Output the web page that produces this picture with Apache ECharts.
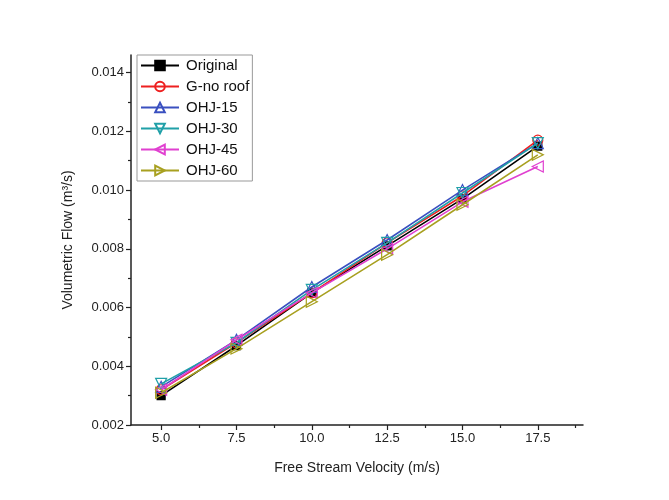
<!DOCTYPE html>
<html>
<head>
<meta charset="utf-8">
<script src="https://cdn.jsdelivr.net/npm/echarts@6/dist/echarts.min.js"></script>
<style>html,body{margin:0;padding:0;background:#fff}#c{width:669px;height:500px}</style>
</head>
<body>
<div id="c"></div>
<script>
const velocities = [5.0, 7.5, 10.0, 12.5, 15.0, 17.5];
const seriesNames = ['Original', 'G-no roof', 'OHJ-15', 'OHJ-30', 'OHJ-45', 'OHJ-60'];
const original = [0.0030, 0.0047, 0.0065, 0.0081, 0.0097, 0.0115];
const gNoRoof  = [0.0032, 0.0048, 0.0065, 0.0082, 0.0098, 0.0117];
const ohj15    = [0.0033, 0.0049, 0.0067, 0.0083, 0.0100, 0.0116];
const ohj30    = [0.0034, 0.0048, 0.0066, 0.0082, 0.0099, 0.0116];
const ohj45    = [0.0032, 0.0049, 0.0065, 0.0080, 0.0096, 0.0108];
const ohj60    = [0.0031, 0.0046, 0.0062, 0.0078, 0.0095, 0.0112];
const xTicks = [5.0, 7.5, 10.0, 12.5, 15.0, 17.5];
const xMinorTicks = [6.25, 8.75, 11.25, 13.75, 16.25, 18.75];
const yTicks = [0.002, 0.004, 0.006, 0.008, 0.010, 0.012, 0.014];
const yMinorTicks = [0.003, 0.005, 0.007, 0.009, 0.011, 0.013];

const values = [original, gNoRoof, ohj15, ohj30, ohj45, ohj60];
const colors = ['#000000', '#ee2020', '#3a50c0', '#20a0a8', '#e040d0', '#a8a020'];
const symbols = [
  'rect', 'circle', 'triangle',
  'path://M0,0 L10,0 L5,10 Z',
  'path://M10,0 L10,10 L0,5 Z',
  'path://M0,0 L0,10 L10,5 Z'
];
const symbolSizes = [8, 10, 11, 11, 11, 11];

const series = seriesNames.map((name, i) => ({
  name: name,
  type: 'line',
  data: velocities.map((v, j) => [v, values[i][j]]),
  symbol: symbols[i],
  symbolSize: symbolSizes[i],
  showAllSymbol: true,
  lineStyle: { color: colors[i], width: 1.6 },
  itemStyle: {
    color: i === 0 ? '#000' : 'rgba(255,255,255,0)',
    borderColor: colors[i],
    borderWidth: 1.2
  },
  z: 2 + i
}));

const fam = 'Liberation Sans, Arial, sans-serif';
const axisFont = { color: '#222', fontSize: 13, fontFamily: fam };

const chart = echarts.init(document.getElementById('c'), null, { renderer: 'canvas' });
chart.setOption({
  backgroundColor: '#fff',
  animation: false,
  grid: { left: 131, right: 86, top: 55, bottom: 75 },
  legend: {
    orient: 'vertical',
    left: 137, top: 55,
    itemWidth: 38, itemHeight: 12, itemGap: 6,
    padding: [3, 3, 3, 3],
    borderColor: '#999', borderWidth: 1,
    textStyle: { color: '#111', fontSize: 15, fontFamily: fam, padding: [0, 4, 0, 2] },
    data: seriesNames
  },
  xAxis: [{
    type: 'value', min: 4, max: 19,
    name: 'Free Stream Velocity (m/s)', nameLocation: 'middle', nameGap: 36,
    nameTextStyle: { color: '#222', fontSize: 14, fontFamily: fam },
    axisLine: { show: true, lineStyle: { color: '#222', width: 1.5 } },
    axisTick: { show: true, length: 5, lineStyle: { color: '#222', width: 1.2 }, customValues: xTicks },
    axisLabel: Object.assign({ customValues: xTicks, margin: 7, formatter: v => v.toFixed(1) }, axisFont),
    splitLine: { show: false }
  }, {
    type: 'value', min: 4, max: 19, position: 'bottom',
    axisLine: { show: false },
    axisTick: { show: true, length: 3, lineStyle: { color: '#222', width: 1.2 }, customValues: xMinorTicks },
    axisLabel: { show: false },
    splitLine: { show: false }
  }],
  yAxis: [{
    type: 'value', min: 0.002, max: 0.0146,
    name: 'Volumetric Flow (m³/s)', nameLocation: 'middle', nameGap: 56,
    nameTextStyle: { color: '#222', fontSize: 14, fontFamily: fam },
    axisLine: { show: true, lineStyle: { color: '#222', width: 1.5 } },
    axisTick: { show: true, length: 5, lineStyle: { color: '#222', width: 1.2 }, customValues: yTicks },
    axisLabel: Object.assign({ customValues: yTicks, margin: 7, formatter: v => v.toFixed(3) }, axisFont),
    splitLine: { show: false }
  }, {
    type: 'value', min: 0.002, max: 0.0146, position: 'left',
    axisLine: { show: false },
    axisTick: { show: true, length: 3, lineStyle: { color: '#222', width: 1.2 }, customValues: yMinorTicks },
    axisLabel: { show: false },
    splitLine: { show: false }
  }],
  series: series
});
</script>
</body>
</html>
